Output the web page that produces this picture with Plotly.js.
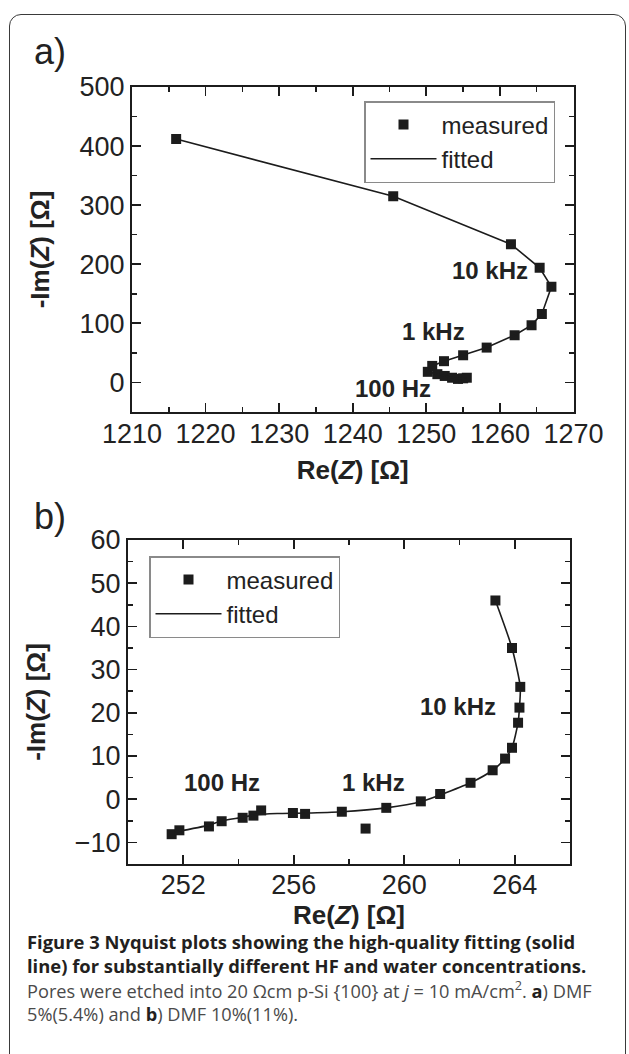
<!DOCTYPE html>
<html>
<head>
<meta charset="utf-8">
<script src="https://cdn.plot.ly/plotly-3.0.1.min.js"></script>
<style>
  html, body { margin: 0; padding: 0; background: #ffffff; }
  #wrap { position: relative; width: 629px; height: 1054px; overflow: hidden; }
  #frame { position: absolute; left: 9px; top: 14px; width: 617px; height: 1100px;
           border: 1.5px solid #3a3a3a; border-radius: 12px; box-sizing: border-box; z-index: 0; }
  #chart { position: absolute; left: 0; top: 0; width: 629px; height: 1054px; z-index: 1; }
</style>
</head>
<body>
<div id="wrap">
  <div id="frame"></div>
  <div id="chart"></div>
</div>
<script>
// ---- Panel a) DMF 5% : measured impedance ----
const aMeasRe = [1216.0, 1245.5, 1261.5, 1265.4, 1267.0, 1265.7, 1264.3, 1262.0, 1258.2, 1255.0, 1252.4, 1250.8, 1250.2, 1251.5, 1252.5, 1253.5, 1254.3, 1255.0, 1255.5];
const aMeasIm = [412, 315, 234, 194, 162, 116, 97, 80, 59, 46, 36, 28, 18, 14, 11, 8, 6, 7, 8];
// ---- Panel a) fitted curve ----
const aFitRe = [1216.0, 1245.5, 1261.5, 1265.4, 1267.0, 1265.7, 1264.3, 1262.0, 1258.2, 1255.0, 1252.4, 1250.8, 1250.2, 1251.5, 1252.5, 1253.5, 1254.3, 1255.0, 1255.5];
const aFitIm = [412, 315, 234, 194, 162, 116, 97, 80, 59, 46, 36, 28, 18, 14, 11, 8, 6, 7, 8];

// ---- Panel b) DMF 10% : measured impedance ----
const bMeasRe = [251.58, 251.86, 252.93, 253.39, 254.15, 254.54, 254.82, 255.97, 256.41, 257.74, 258.60, 259.35, 260.60, 261.30, 262.40, 263.20, 263.65, 263.90, 264.12, 264.17, 264.20, 263.90, 263.30];
const bMeasIm = [-8.1, -7.2, -6.3, -5.1, -4.3, -3.8, -2.6, -3.2, -3.4, -2.9, -6.8, -2.0, -0.5, 1.2, 3.8, 6.7, 9.4, 11.9, 17.7, 21.2, 26.0, 35.0, 46.0];
// ---- Panel b) fitted curve ----
const bFitRe = [251.70, 252.93, 253.39, 254.15, 254.60, 255.40, 256.41, 257.74, 259.35, 260.60, 261.30, 262.40, 263.20, 263.65, 263.90, 264.12, 264.17, 264.20, 263.90, 263.30];
const bFitIm = [-7.6, -6.0, -5.0, -4.2, -3.6, -3.3, -3.2, -2.9, -2.0, -0.6, 1.0, 3.8, 6.7, 9.4, 11.9, 17.7, 21.2, 26.0, 35.0, 46.0];

// ---- text ----
const seriesNames = ['measured', 'fitted'];
const aFreqLabels = ['10 kHz', '1 kHz', '100 Hz'];
const aFreqRe = [1258.6, 1251.0, 1245.5];
const aFreqIm = [190, 86, -10];
const bFreqLabels = ['10 kHz', '1 kHz', '100 Hz'];
const bFreqRe = [261.95, 258.9, 253.4];
const bFreqIm = [21.4, 3.8, 3.9];
const captionLines = [
  '<b>Figure 3 Nyquist plots showing the high-quality fitting (solid</b>',
  '<b>line) for substantially different HF and water concentrations.</b>',
  '<span style="color:#4a4a4a">Pores were etched into 20 Ωcm p-Si {100} at <i>j</i> = 10 mA/cm<sup>2</sup>. </span><b>a</b><span style="color:#4a4a4a">) DMF</span>',
  '<span style="color:#4a4a4a">5%(5.4%) and </span><b>b</b><span style="color:#4a4a4a">) DMF 10%(11%).</span>'
];

const ink = '#1c1c1c';
const tickFont = {family: 'Liberation Sans, Arial, sans-serif', size: 27, color: '#222'};
const titleFont = {family: 'Liberation Sans, Arial, sans-serif', size: 26, color: '#222', weight: 'bold'};
const W = 629, H = 1054;
const px = v => v / W;
const py = v => (H - v) / H;

function axisBase(extra) {
  return Object.assign({
    showgrid: false, zeroline: false, showline: true, linecolor: ink, linewidth: 2,
    mirror: 'ticks', ticks: 'inside', ticklen: 9, tickwidth: 1.8, tickcolor: ink,
    tickfont: tickFont, fixedrange: true
  }, extra);
}

const traces = [
  {x: aMeasRe, y: aMeasIm, xaxis: 'x', yaxis: 'y', mode: 'markers', name: seriesNames[0], legend: 'legend',
   marker: {symbol: 'square', size: 10, color: ink}},
  {x: aFitRe, y: aFitIm, xaxis: 'x', yaxis: 'y', mode: 'lines', name: seriesNames[1], legend: 'legend',
   line: {color: ink, width: 1.6}},
  {x: bMeasRe, y: bMeasIm, xaxis: 'x2', yaxis: 'y2', mode: 'markers', name: seriesNames[0], legend: 'legend2',
   marker: {symbol: 'square', size: 10, color: ink}},
  {x: bFitRe, y: bFitIm, xaxis: 'x2', yaxis: 'y2', mode: 'lines', name: seriesNames[1], legend: 'legend2',
   line: {color: ink, width: 1.6, shape: 'spline', smoothing: 0.6}}
];

const annFont = {family: 'Liberation Sans, Arial, sans-serif', size: 24, color: '#222', weight: 'bold'};
const annotations = [];
aFreqLabels.forEach((t, i) => annotations.push({text: '<b>' + t + '</b>', x: aFreqRe[i], y: aFreqIm[i], xref: 'x', yref: 'y', showarrow: false, font: annFont}));
bFreqLabels.forEach((t, i) => annotations.push({text: '<b>' + t + '</b>', x: bFreqRe[i], y: bFreqIm[i], xref: 'x2', yref: 'y2', showarrow: false, font: annFont}));
annotations.push({text: 'a)', xref: 'paper', yref: 'paper', x: px(32), y: py(52), xanchor: 'left', yanchor: 'middle', showarrow: false,
  font: {family: 'Liberation Sans, Arial, sans-serif', size: 36, color: '#222'}});
annotations.push({text: 'b)', xref: 'paper', yref: 'paper', x: px(32), y: py(516), xanchor: 'left', yanchor: 'middle', showarrow: false,
  font: {family: 'Liberation Sans, Arial, sans-serif', size: 36, color: '#222'}});
const captionY = [941, 965, 989.5, 1014];
captionLines.forEach((t, i) => annotations.push({
  text: t, xref: 'paper', yref: 'paper', x: px(25), y: py(captionY[i]), xanchor: 'left', yanchor: 'middle', align: 'left', showarrow: false,
  font: {family: 'Open Sans, sans-serif', size: i < 2 ? 18.4 : 18.2, color: '#231f20'}
}));

const legendStyle = {
  bgcolor: 'rgba(255,255,255,1)', bordercolor: '#8a8a8a', borderwidth: 1.5,
  font: {family: 'Liberation Sans, Arial, sans-serif', size: 24, color: '#222'},
  xanchor: 'left', yanchor: 'top', itemwidth: 66, tracegroupgap: 0
};

const layout = {
  width: W, height: H,
  margin: {l: 0, r: 0, t: 0, b: 0},
  paper_bgcolor: 'rgba(0,0,0,0)', plot_bgcolor: 'rgba(0,0,0,0)',
  showlegend: true,
  xaxis: axisBase({domain: [px(132), px(573.5)], anchor: 'y', range: [1210, 1270], dtick: 10, tick0: 1210,
    ticklabelstandoff: -3,
    minor: {dtick: 5, ticks: 'inside', ticklen: 5, tickwidth: 1.5, tickcolor: ink},
    title: {text: '<b>Re(<i>Z</i>) [Ω]</b>', font: titleFont, standoff: 12}}),
  yaxis: axisBase({domain: [py(412), py(87)], anchor: 'x', range: [-50, 500], dtick: 100, tick0: 0,
    minor: {dtick: 50, ticks: 'inside', ticklen: 5, tickwidth: 1.5, tickcolor: ink},
    title: {text: '<b>-Im(<i>Z</i>) [Ω]</b>', font: titleFont, standoff: 22}}),
  xaxis2: axisBase({domain: [px(128), px(570)], anchor: 'y2', range: [250, 266], dtick: 4, tick0: 252,
    ticklabelstandoff: -4,
    minor: {dtick: 2, ticks: 'inside', ticklen: 5, tickwidth: 1.5, tickcolor: ink},
    title: {text: '<b>Re(<i>Z</i>) [Ω]</b>', font: titleFont, standoff: 2}}),
  yaxis2: axisBase({domain: [py(864), py(540)], anchor: 'x2', range: [-15, 60], dtick: 10, tick0: 0,
    minor: {dtick: 5, ticks: 'inside', ticklen: 5, tickwidth: 1.5, tickcolor: ink},
    title: {text: '<b>-Im(<i>Z</i>) [Ω]</b>', font: titleFont, standoff: 22}}),
  legend: Object.assign({x: px(364), y: py(101)}, legendStyle),
  legend2: Object.assign({x: px(149), y: py(556)}, legendStyle),
  annotations: annotations
};

Plotly.newPlot('chart', traces, layout, {staticPlot: true, displayModeBar: false});
</script>
</body>
</html>
